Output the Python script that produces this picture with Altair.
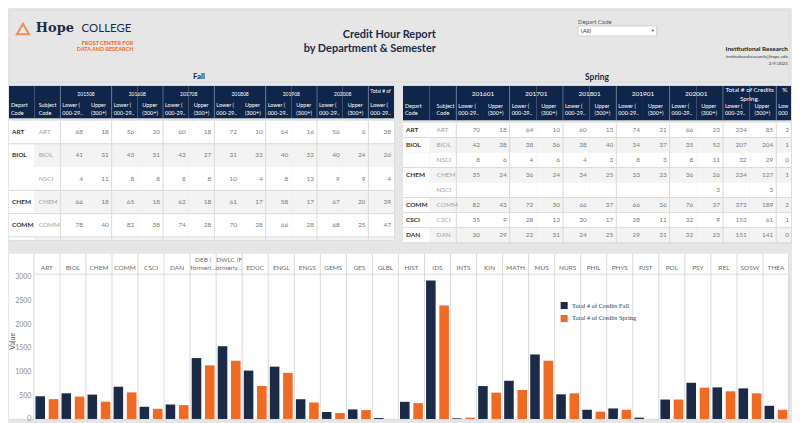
import altair as alt
import pandas as pd

NAVY = "#1b2b47"
HEADBG = "#0f2549"
ORANGE = "#f26a21"
BG = "#e6e6e6"
FONT = "Lato"
LINE = "#dadada"
STRIPE = "#f3f3f3"
CUT = "\u200b"

# ---------------- bar chart data ----------------
depts = ["ART", "BIOL", "CHEM", "COMM", "CSCI", "DAN", "DEB", "DWLC", "EDUC", "ENGL", "ENGS",
         "GEMS", "GES", "GLBL", "HIST", "IDS", "INTS", "KIN", "MATH", "MUS", "NURS", "PHIL",
         "PHYS", "PJST", "POL", "PSY", "REL", "SOSW", "THEA"]
dept_label_top = ["", "", "", "", "", "", "DEB (", "DWLC (F", "", "", "", "", "", "", "", "", "",
                  "", "", "", "", "", "", "", "", "", "", "", ""]
dept_label_bottom = ["ART", "BIOL", "CHEM", "COMM", "CSCI", "DAN", "formerl\u2026", "ormerly\u2026",
                     "EDUC", "ENGL", "ENGS", "GEMS", "GES", "GLBL", "HIST", "IDS", "INTS", "KIN",
                     "MATH", "MUS", "NURS", "PHIL", "PHYS", "PJST", "POL", "PSY", "REL", "SOSW",
                     "THEA"]
credits_fall = [479, 541, 514, 680, 257, 305, 1284, 1534, 1020, 1103, 416, 146, 201, 20,
                361, 2922, 14, 694, 805, 1360, 520, 194, 222, 28, 409, 763, 666, 645, 278]
credits_spring = [419, 472, 364, 561, 214, 292, 1131, 1228, 694, 972, 347, 125, 187, None,
                  333, 2394, 28, 555, 611, 1228, 541, 153, 194, None, 409, 659, 583, 541, 194]
series = ["Total # of Credits Fall", "Total # of Credits Spring"]
y_ticks = [0, 500, 1000, 1500, 2000, 2500, 3000]

# ---------------- fall table data ----------------
fall_sems = ["201508", "201608", "201708", "201808", "201908", "202008"]
fall_dept = ["ART", "BIOL", "", "CHEM", "COMM", ""]
fall_subj = ["ART", "BIOL", "NSCI", "CHEM", "COMM", ""]
fall_lower = [[68, 56, 60, 72, 64, 56], [41, 43, 43, 31, 40, 40], [4, 8, 8, 10, 8, 9],
              [66, 65, 62, 61, 58, 67], [78, 82, 74, 70, 66, 68], [None] * 6]
fall_upper = [[18, 20, 18, 10, 16, 6], [31, 31, 27, 33, 32, 24], [11, 8, 8, 4, 13, 9],
              [18, 18, 18, 17, 17, 20], [40, 38, 28, 28, 28, 25], [None] * 6]
fall_total_lower = [38, 26, 4, 39, 47, None]   # digits visible before the cut-off
fall_dept_end = [True, False, True, True, True, False]

# ---------------- spring table data ----------------
spring_sems = ["201601", "201701", "201801", "201901", "202001"]
spring_dept = ["ART", "BIOL", "", "CHEM", "", "COMM", "CSCI", "DAN"]
spring_subj = ["ART", "BIOL", "NSCI", "CHEM", "NSCI", "COMM", "CSCI", "DAN"]
spring_lower = [[70, 64, 60, 74, 66], [42, 38, 38, 34, 35], [8, 4, 4, 8, 8], [35, 36, 34, 33, 36],
                [None] * 5, [82, 72, 66, 66, 76], [35, 28, 30, 28, 32], [30, 22, 24, 29, 32]]
spring_upper = [[18, 10, 13, 21, 23], [38, 36, 40, 37, 52], [6, 6, 3, 3, 11], [24, 24, 25, 23, 26],
                [None, None, None, None, 3], [43, 30, 37, 36, 37], [9, 13, 17, 11, 9], [29, 31, 25, 31, 23]]
spring_total_lower = [334, 207, 32, 234, None, 372, 153, 151]
spring_total_upper = [85, 204, 29, 127, 3, 189, 61, 141]
spring_pct = [2, 1, 0, 1, None, 2, 1, 0]
spring_dept_end = [True, False, True, False, True, True, True, True]


def s(v):
    return "" if v is None else str(v)


def build_table(sems, extra_cols, extra_top, extra_bot, dept, subj, lower, upper, extra_nums,
                left_nums, dept_end, width, band, head_h, row_h, body_h, fs_top, fs_bot,
                fs_body, dy_bot, sub_dx):
    cols = ["dep", "sub"] + [f"{sm}{k}" for sm in sems for k in "LU"] + extra_cols
    group_starts = [c for i, c in enumerate(cols) if i >= 2 and i % 2 == 0]
    nrows = len(dept)
    rows = [f"r{i}" for i in range(nrows)]
    xs = alt.Scale(domain=cols, range=[0, band * len(cols)], paddingInner=0, paddingOuter=0)
    ys = alt.Scale(domain=rows, range=[0, row_h * nrows], paddingInner=0, paddingOuter=0)
    hs = alt.Scale(domain=["t", "b"], range=[0, head_h], paddingInner=0, paddingOuter=0)

    def X(bp=None):
        if bp is None:
            return alt.X("col:N", scale=xs, axis=None)
        return alt.X("col:N", scale=xs, axis=None, bandPosition=bp)

    HY = alt.Y("hr:N", scale=hs, axis=None)

    def htext(records, align, dx, dy, size, limit=0):
        return alt.Chart(pd.DataFrame(records)).mark_text(
            color="white", fontSize=size, align=align, dx=dx, dy=dy, lineBreak="\n", clip=True,
            font=FONT, limit=limit, ellipsis=CUT).encode(x=X(0), y=HY, text="text:N")

    # ---- header
    hbg = pd.DataFrame([{"col": c, "hr": h} for c in cols for h in ["t", "b"]])
    h_rect = alt.Chart(hbg).mark_rect(color=HEADBG, clip=True).encode(x=X(), y=HY)
    h_lines = alt.Chart(pd.DataFrame({"col": group_starts})).mark_rule(
        color="#7d889d", strokeWidth=0.7, clip=True).encode(x=X(0))
    sem_top = [{"col": f"{sm}U", "hr": "t", "text": sm} for sm in sems]
    botA = [{"col": "dep", "hr": "b", "text": "Depart\nCode"}] + \
           [{"col": f"{sm}L", "hr": "b", "text": "Lower (\n000-29.."} for sm in sems]
    botU = [{"col": f"{sm}U", "hr": "b", "text": "Upper\n(300+)"} for sm in sems]
    botS = [{"col": "sub", "hr": "b", "text": "Subject\nCode"}]
    h_layers = [h_rect, h_lines,
                htext(sem_top, "center", 0, 0, fs_top),
                htext(botA, "left", 2, dy_bot, fs_bot),
                htext(botU, "left", 5, dy_bot, fs_bot),
                htext(botS, "left", sub_dx, dy_bot, fs_bot)]
    for c, t, align, dx, dy, lim in extra_top:
        h_layers.append(htext([{"col": c, "hr": "t", "text": t}], align, dx, dy, fs_top, lim))
    for c, t, dx, lim in extra_bot:
        h_layers.append(htext([{"col": c, "hr": "b", "text": t}], "left", dx, dy_bot, fs_bot, lim))
    head = alt.layer(*h_layers).properties(width=width, height=head_h)

    # ---- body
    bg = pd.DataFrame([{"col": c, "row": r,
                        "fill": ("white" if (c == "dep" or i % 2 == 0) else STRIPE)}
                       for i, r in enumerate(rows) for c in cols])
    Y = alt.Y("row:N", scale=ys, axis=None)
    b_rect = alt.Chart(bg).mark_rect(clip=True).encode(
        x=X(), y=Y, color=alt.Color("fill:N", scale=None))
    b_vl = alt.Chart(pd.DataFrame({"col": group_starts})).mark_rule(
        color=LINE, strokeWidth=1, clip=True).encode(x=X(0))
    b_hl = alt.Chart(pd.DataFrame({"row": [r for r, e in zip(rows, dept_end) if e]})).mark_rule(
        color=LINE, strokeWidth=1, clip=True).encode(
        y=alt.Y("row:N", scale=ys, axis=None, bandPosition=1))
    dep_df = pd.DataFrame({"col": "dep", "row": rows, "text": dept})
    sub_df = pd.DataFrame({"col": "sub", "row": rows, "text": subj})
    nums = []
    for i, r in enumerate(rows):
        for j, sm in enumerate(sems):
            nums.append({"col": f"{sm}L", "row": r, "text": s(lower[i][j])})
            nums.append({"col": f"{sm}U", "row": r, "text": s(upper[i][j])})
        for c, vals in extra_nums:
            nums.append({"col": c, "row": r, "text": s(vals[i])})
    lnums = []
    for c, vals in left_nums:
        for i, r in enumerate(rows):
            lnums.append({"col": c, "row": r, "text": s(vals[i])})
    t_dep = alt.Chart(dep_df).mark_text(align="left", dx=3, fontSize=fs_body, fontWeight="bold",
                                        color="#333333", clip=True, font=FONT).encode(
        x=X(0), y=Y, text="text:N")
    t_sub = alt.Chart(sub_df).mark_text(align="left", dx=sub_dx, fontSize=fs_body,
                                        color="#a3a3a3", clip=True, font=FONT).encode(
        x=X(0), y=Y, text="text:N")
    t_num = alt.Chart(pd.DataFrame(nums)).mark_text(align="right", dx=-3, fontSize=fs_body,
                                                    color="#7a7a7a", clip=True, font=FONT).encode(
        x=X(1), y=Y, text="text:N")
    layers = [b_rect, b_vl, b_hl, t_dep, t_sub, t_num]
    if lnums:
        layers.append(alt.Chart(pd.DataFrame(lnums)).mark_text(
            align="left", dx=9, fontSize=fs_body, color="#7a7a7a", clip=True, font=FONT,
            limit=6, ellipsis=CUT).encode(x=X(0), y=Y, text="text:N"))
    body = alt.layer(*layers).properties(width=width, height=body_h)
    return alt.vconcat(head, body, spacing=0)


fall_table = build_table(
    fall_sems, ["totL", "totU"],
    [("totL", "Total # of Credits Fall.", "left", 2, -3, 22)],
    [("totL", "Lower (\n000-29..", 2, 22)],
    fall_dept, fall_subj, fall_lower, fall_upper, [("totL", fall_total_lower)], [],
    fall_dept_end, width=387, band=25.8, head_h=33, row_h=23.4, body_h=120,
    fs_top=5, fs_bot=5.5, fs_body=6.5, dy_bot=-5, sub_dx=4)

spring_table = build_table(
    spring_sems, ["totL", "totU", "pctL"],
    [("totU", "Total # of Credits\nSpring.", "center", 0, -4, 0),
     ("pctL", "% of Total Spring", "left", 6, -4, 10)],
    [("totL", "Lower (\n000-29..", 2, 22), ("totU", "Upper\n(300+)", 5, 22),
     ("pctL", "Lower (\n000-29..", 2, 11)],
    spring_dept, spring_subj, spring_lower, spring_upper,
    [("totL", spring_total_lower), ("totU", spring_total_upper)], [("pctL", spring_pct)],
    spring_dept_end, width=390, band=26.8, head_h=35, row_h=15.1, body_h=121,
    fs_top=6.5, fs_bot=5.5, fs_body=6.5, dy_bot=-6, sub_dx=7)

tables = alt.hconcat(fall_table, spring_table, spacing=7)

# ---------------- page header ----------------
one = pd.DataFrame({"k": [0]})


def label(text, x, y, size, color, weight="normal", align="left", font=FONT, baseline="middle",
          angle=0):
    return alt.Chart(one).mark_text(text=text, fontSize=size, color=color, fontWeight=weight,
                                    align=align, font=font, baseline=baseline, angle=angle).encode(
        x=alt.value(x), y=alt.value(y))


header = alt.layer(
    alt.Chart(one).mark_point(shape="triangle-up", filled=False, stroke=ORANGE, strokeWidth=2,
                              size=150).encode(x=alt.value(14), y=alt.value(19)),
    label("Hope", 27, 22.5, 13, NAVY, "bold", font="DejaVu Serif", baseline="alphabetic"),
    label("COLLEGE", 73, 22.5, 11.5, NAVY, baseline="alphabetic"),
    label("FROST CENTER FOR", 125, 33.5, 5.5, ORANGE, "bold", align="right"),
    label("DATA AND RESEARCH", 125, 39.5, 5.5, ORANGE, "bold", align="right"),
    label("Credit Hour Report", 429, 25, 11, NAVY, "bold", align="right"),
    label("by Department & Semester", 429, 39, 11, NAVY, "bold", align="right"),
    label("Depart Code", 572, 12, 6, "#555555"),
    alt.Chart(one).mark_rect(fill="white", stroke="#c6c6c6", strokeWidth=0.8).encode(
        x=alt.value(572), x2=alt.value(651), y=alt.value(16), y2=alt.value(26)),
    label("(All)", 575, 21, 6, "#333333"),
    label("\u25BC", 647, 21, 4, "#444444", align="center"),
    label("Institutional Research", 783, 39, 6.5, "#222222", "bold", align="right"),
    label("institutionalresearch@hope.edu", 783, 46.7, 4.5, "#333333", align="right"),
    label("2/9/2021", 783, 54, 4.5, "#333333", align="right"),
    label("Fall", 191, 67, 8, NAVY, "bold", align="center"),
    label("Spring", 591, 67.5, 8.5, NAVY, "bold", align="center"),
).properties(width=784, height=72)

# ---------------- bar chart ----------------
bar_rows = []
for d, f, sp in zip(depts, credits_fall, credits_spring):
    bar_rows.append({"dept": d, "series": series[0], "value": f})
    bar_rows.append({"dept": d, "series": series[1], "value": sp})
bar_df = pd.DataFrame(bar_rows)
lab_df = pd.DataFrame({"dept": depts, "top": dept_label_top, "bottom": dept_label_bottom})

BAR_W, BAR_H = 784, 146
PLOT_L, PLOT_R = 25, 784
xs_bar = alt.Scale(domain=depts, range=[PLOT_L, PLOT_R], paddingInner=0, paddingOuter=0)
XB = alt.X("dept:N", scale=xs_bar, sort=depts,
           axis=alt.Axis(orient="top", title=None, labels=False, ticks=False, domainColor=LINE,
                         zindex=1))

white_bg = alt.Chart(one).mark_rect(color="white").encode(
    x=alt.value(0), x2=alt.value(BAR_W), y=alt.value(-20), y2=alt.value(BAR_H))
seps = alt.Chart(pd.DataFrame({"dept": depts})).mark_rule(color=LINE, strokeWidth=1).encode(
    x=alt.X("dept:N", scale=xs_bar, sort=depts, bandPosition=0),
    y=alt.value(-20), y2=alt.value(BAR_H))
sep_end = alt.Chart(one).mark_rule(color=LINE, strokeWidth=1).encode(
    x=alt.value(PLOT_R - 0.5), y=alt.value(-20), y2=alt.value(BAR_H))
lab_top = alt.Chart(lab_df).mark_text(fontSize=6.5, color="#6b6b6b", font=FONT).encode(
    x=XB, y=alt.value(-14), text="top:N")
lab_bot = alt.Chart(lab_df).mark_text(fontSize=6.5, color="#6b6b6b", font=FONT).encode(
    x=XB, y=alt.value(-5.5), text="bottom:N")
value_title = label("Value", 4, 68, 7, "#555555", angle=270, align="center")
bars = alt.Chart(bar_df).mark_bar().encode(
    x=XB,
    xOffset=alt.XOffset("series:N", sort=series,
                        scale=alt.Scale(domain=series, paddingInner=0.28, paddingOuter=0.12)),
    y=alt.Y("value:Q", scale=alt.Scale(domain=[0, 3063], nice=False),
            axis=alt.Axis(values=y_ticks, format="d", title=None, grid=False, domain=False,
                          ticks=False, labelFont=FONT, labelFontSize=7, labelColor="#8a8a8a",
                          labelPadding=3, offset=-PLOT_L, zindex=1)),
    color=alt.Color("series:N", sort=series,
                    scale=alt.Scale(domain=series, range=[NAVY, ORANGE]),
                    legend=alt.Legend(title=None, orient="none", legendX=554, legendY=293,
                                      padding=0, symbolType="square", symbolSize=50,
                                      symbolStrokeWidth=0, labelFont="Liberation Serif",
                                      labelFontSize=6.5, labelColor="#333333", rowPadding=5)),
)
bar_chart = alt.layer(white_bg, seps, sep_end, lab_top, lab_bot, value_title, bars).properties(
    width=BAR_W, height=BAR_H)

chart = alt.vconcat(
    alt.vconcat(header, tables, spacing=2),
    bar_chart,
    spacing=9,
).properties(
    background=BG,
    padding=0,
).configure_view(stroke=None).configure(font=FONT)

chart.save("out.html", embed_options={"renderer": "svg", "actions": False})
